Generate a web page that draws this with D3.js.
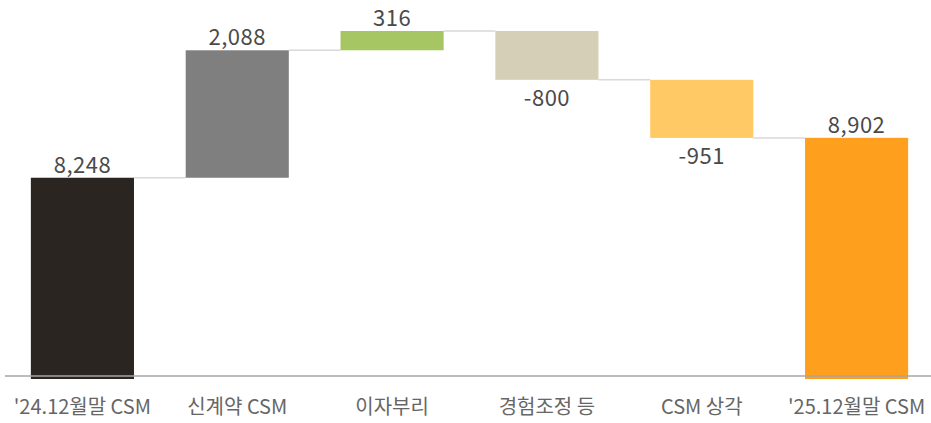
<!DOCTYPE html>
<html>
<head>
<meta charset="utf-8">
<script src="https://cdn.jsdelivr.net/npm/d3@7"></script>
<style>
  body { margin: 0; background: #fff; }
  text { font-family: "Noto Sans CJK KR", "Noto Sans", sans-serif; }
</style>
</head>
<body>
<script>
var categories = ["'24.12월말 CSM", "신계약 CSM", "이자부리", "경험조정 등", "CSM 상각", "'25.12월말 CSM"]
var values = [8248, 2088, 316, -800, -951, 8902]
var isTotal = [true, false, false, false, false, true]
var valueLabels = ["8,248", "2,088", "316", "-800", "-951", "8,902"]
var palette = ["#2b2522", "#7f7f7f", "#a6c663", "#d5cfb7", "#ffc966", "#ff9f1e"]

var w = 931, h = 423;
var axisY = 376;

var svg = d3.select("body")
    .append("svg")
    .attr("width", w)
    .attr("height", h);

// running totals -> start/end of each bar
var bars = [];
var running = 0;
for (var i = 0; i < categories.length; i++) {
    var start, end;
    if (isTotal[i]) {
        start = 0; end = values[i]; running = values[i];
    } else {
        start = running; end = running + values[i]; running = end;
    }
    bars.push({cat: categories[i], v: values[i], start: start, end: end, label: valueLabels[i], color: palette[i]});
}

var xScale = d3.scaleBand()
    .domain(categories)
    .range([5, 934])
    .paddingInner(0.334)
    .paddingOuter(0.167);

// axis starts at 5,000, not zero
var yScale = d3.scaleLinear()
    .domain([5000, 10652])
    .range([axisY, 31]);

function barTop(d) { return yScale(Math.max(d.start, d.end)); }
function barBottom(d) { return d.start === 0 ? axisY + 3 : yScale(Math.min(d.start, d.end)); }

// connectors
svg.selectAll("line.conn")
    .data(bars.slice(0, -1))
    .enter()
    .append("line")
    .attr("class", "conn")
    .attr("x1", function(d) { return xScale(d.cat) + xScale.bandwidth(); })
    .attr("x2", function(d, i) { return xScale(bars[i + 1].cat); })
    .attr("y1", function(d) { return yScale(d.end); })
    .attr("y2", function(d) { return yScale(d.end); })
    .attr("stroke", "#d9d9d9")
    .attr("stroke-width", 1.5);

svg.selectAll("rect")
    .data(bars)
    .enter()
    .append("rect")
    .attr("x", function(d) { return xScale(d.cat); })
    .attr("y", barTop)
    .attr("width", xScale.bandwidth())
    .attr("height", function(d) { return barBottom(d) - barTop(d); })
    .attr("fill", function(d) { return d.color; });

// x axis line
svg.append("line")
    .attr("x1", 5)
    .attr("x2", w)
    .attr("y1", axisY)
    .attr("y2", axisY)
    .attr("stroke", "#a6a6a6")
    .attr("stroke-width", 1.5);

// value labels
svg.selectAll("text.val")
    .data(bars)
    .enter()
    .append("text")
    .attr("class", "val")
    .attr("x", function(d) { return xScale(d.cat) + xScale.bandwidth() / 2; })
    .attr("y", function(d) { return d.v < 0 ? yScale(d.end) + 26 : barTop(d) - 5; })
    .attr("text-anchor", "middle")
    .attr("font-size", 22)
    .attr("letter-spacing", 0.5)
    .attr("fill", "#4a4a4a")
    .text(function(d) { return d.label; });

// category labels
svg.selectAll("text.cat")
    .data(bars)
    .enter()
    .append("text")
    .attr("class", "cat")
    .attr("x", function(d) { return xScale(d.cat) + xScale.bandwidth() / 2; })
    .attr("y", 414)
    .attr("text-anchor", "middle")
    .attr("font-size", 20)
    .attr("fill", "#666666")
    .text(function(d) { return d.cat; });
</script>
</body>
</html>
